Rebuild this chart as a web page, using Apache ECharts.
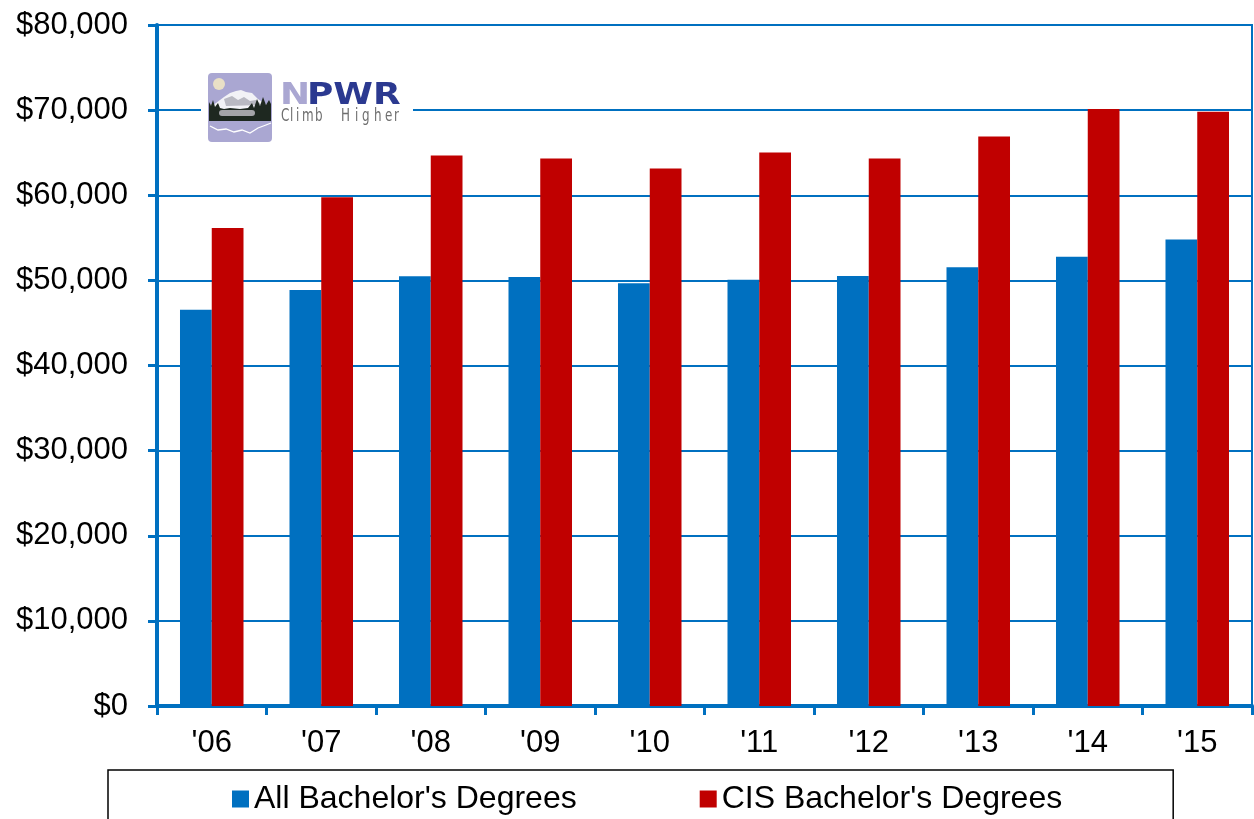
<!DOCTYPE html>
<html>
<head>
<meta charset="utf-8">
<script src="https://cdn.jsdelivr.net/npm/echarts@6/dist/echarts.min.js"></script>
<style>html,body{margin:0;padding:0;background:#fff;}#c{width:1254px;height:819px;}</style>
</head>
<body>
<div id="c"></div>
<script>
const categories = ["'06","'07","'08","'09","'10","'11","'12","'13","'14","'15"];
const allBachelors = [46550, 48870, 50470, 50400, 49650, 50080, 50520, 51530, 52790, 54790];
const cisBachelors = [56160, 59760, 64670, 64320, 63140, 65020, 64320, 66910, 70120, 69810];
const seriesNames = ["All Bachelor's Degrees", "CIS Bachelor's Degrees"];
const logoTagline = "Climb Higher";

const BLUE = '#0070c0', RED = '#c00000';
const FONT = '"Liberation Sans", Arial, sans-serif';
const chart = echarts.init(document.getElementById('c'), null, {renderer: 'canvas'});

function money(v){ return '$' + String(v).replace(/\B(?=(\d{3})+(?!\d))/g, ','); }

// tagline glyph positions (logo styling)
const tagX = [281, 290, 296, 302, 315, 328, 341, 355, 362, 374, 385, 394];
const tagline = logoTagline.split('').map((ch, i) => ({
  type: 'text', x: tagX[i], y: 108, scaleX: 0.78,
  style: {text: ch, font: '17px "DejaVu Sans Condensed", "DejaVu Sans"', fill: '#6e6e6e'}, z: 105
}));

chart.setOption({
  animation: false,
  backgroundColor: '#fff',
  grid: {left: 157, right: 2, top: 25, bottom: 113, show: true, borderColor: BLUE, borderWidth: 2, backgroundColor: 'transparent'},
  legend: {
    data: seriesNames,
    left: 108, top: 770,
    orient: 'horizontal',
    itemWidth: 17, itemHeight: 17, itemGap: 123,
    padding: [13, 111, 30, 124],
    borderColor: '#000', borderWidth: 1.5,
    icon: 'rect',
    textStyle: {fontFamily: FONT, fontSize: 32, color: '#000'}
  },
  xAxis: {
    type: 'category',
    data: categories,
    axisLine: {lineStyle: {color: BLUE, width: 4}},
    axisTick: {show: true, length: 9, lineStyle: {color: BLUE, width: 3}},
    axisLabel: {fontFamily: FONT, fontSize: 31, color: '#000', margin: 22}
  },
  yAxis: {
    type: 'value', min: 0, max: 80000, interval: 10000,
    axisLine: {show: true, lineStyle: {color: BLUE, width: 4}},
    axisTick: {show: true, length: 9, lineStyle: {color: BLUE, width: 3}},
    splitLine: {lineStyle: {color: BLUE, width: 2}},
    axisLabel: {fontFamily: FONT, fontSize: 31, color: '#000', margin: 29, formatter: money}
  },
  series: [
    {name: seriesNames[0], type: 'bar', data: allBachelors, itemStyle: {color: BLUE}, barGap: '0%', barCategoryGap: '42%'},
    {name: seriesNames[1], type: 'bar', data: cisBachelors, itemStyle: {color: RED}, barGap: '0%', barCategoryGap: '42%'}
  ],
  graphic: [
    {type: 'rect', shape: {x: 201, y: 68, width: 212, height: 78}, style: {fill: '#fff'}, z: 100},
    {type: 'rect', shape: {x: 208, y: 73, width: 64, height: 69, r: 4}, style: {fill: '#aaa7d2'}, z: 101},
    {type: 'circle', shape: {cx: 219, cy: 84, r: 6}, style: {fill: '#e9e0c6'}, z: 102},
    {type: 'rect', shape: {x: 209, y: 104, width: 62, height: 16}, style: {fill: '#9e9ea4'}, z: 102},
    {type: 'polygon', shape: {points: [[209,108],[216,103],[224,97],[230,93],[236,91],[241,90],[246,92],[252,93],[258,99],[264,103],[271,107],[271,110],[209,110]]}, style: {fill: '#f2f2f6'}, z: 103},
    {type: 'polygon', shape: {points: [[224,99],[232,96],[238,100],[244,97],[250,101],[256,100],[262,105],[226,106]]}, style: {fill: '#b9b9c2'}, z: 103},
    {type: 'polygon', shape: {points: [[209,121],[209,102],[211,106],[213,100],[215,107],[218,103],[220,108],[224,109],[230,108],[240,109],[248,108],[252,103],[254,108],[257,99],[260,106],[263,97],[266,105],[269,100],[271,104],[271,121]]}, style: {fill: '#1e2820'}, z: 104},
    {type: 'rect', shape: {x: 219, y: 110, width: 36, height: 6, r: 3}, style: {fill: '#a3a3a8'}, z: 105},
    {type: 'polyline', shape: {points: [[210,126],[218,130],[226,129],[234,132],[242,130],[250,133],[258,128],[266,125],[271,123]]}, style: {stroke: '#ffffff', lineWidth: 1.3, fill: null}, z: 105},
    {type: 'text', x: 280, y: 80, scaleX: 1.16, style: {text: 'N', font: 'bold 31px "DejaVu Sans"', fill: '#aaa7d2'}, z: 105},
    {type: 'text', x: 307, y: 80, scaleX: 1.16, style: {text: 'PWR', font: 'bold 31px "DejaVu Sans"', fill: '#2b3990'}, z: 105}
  ].concat(tagline)
});
</script>
</body>
</html>
